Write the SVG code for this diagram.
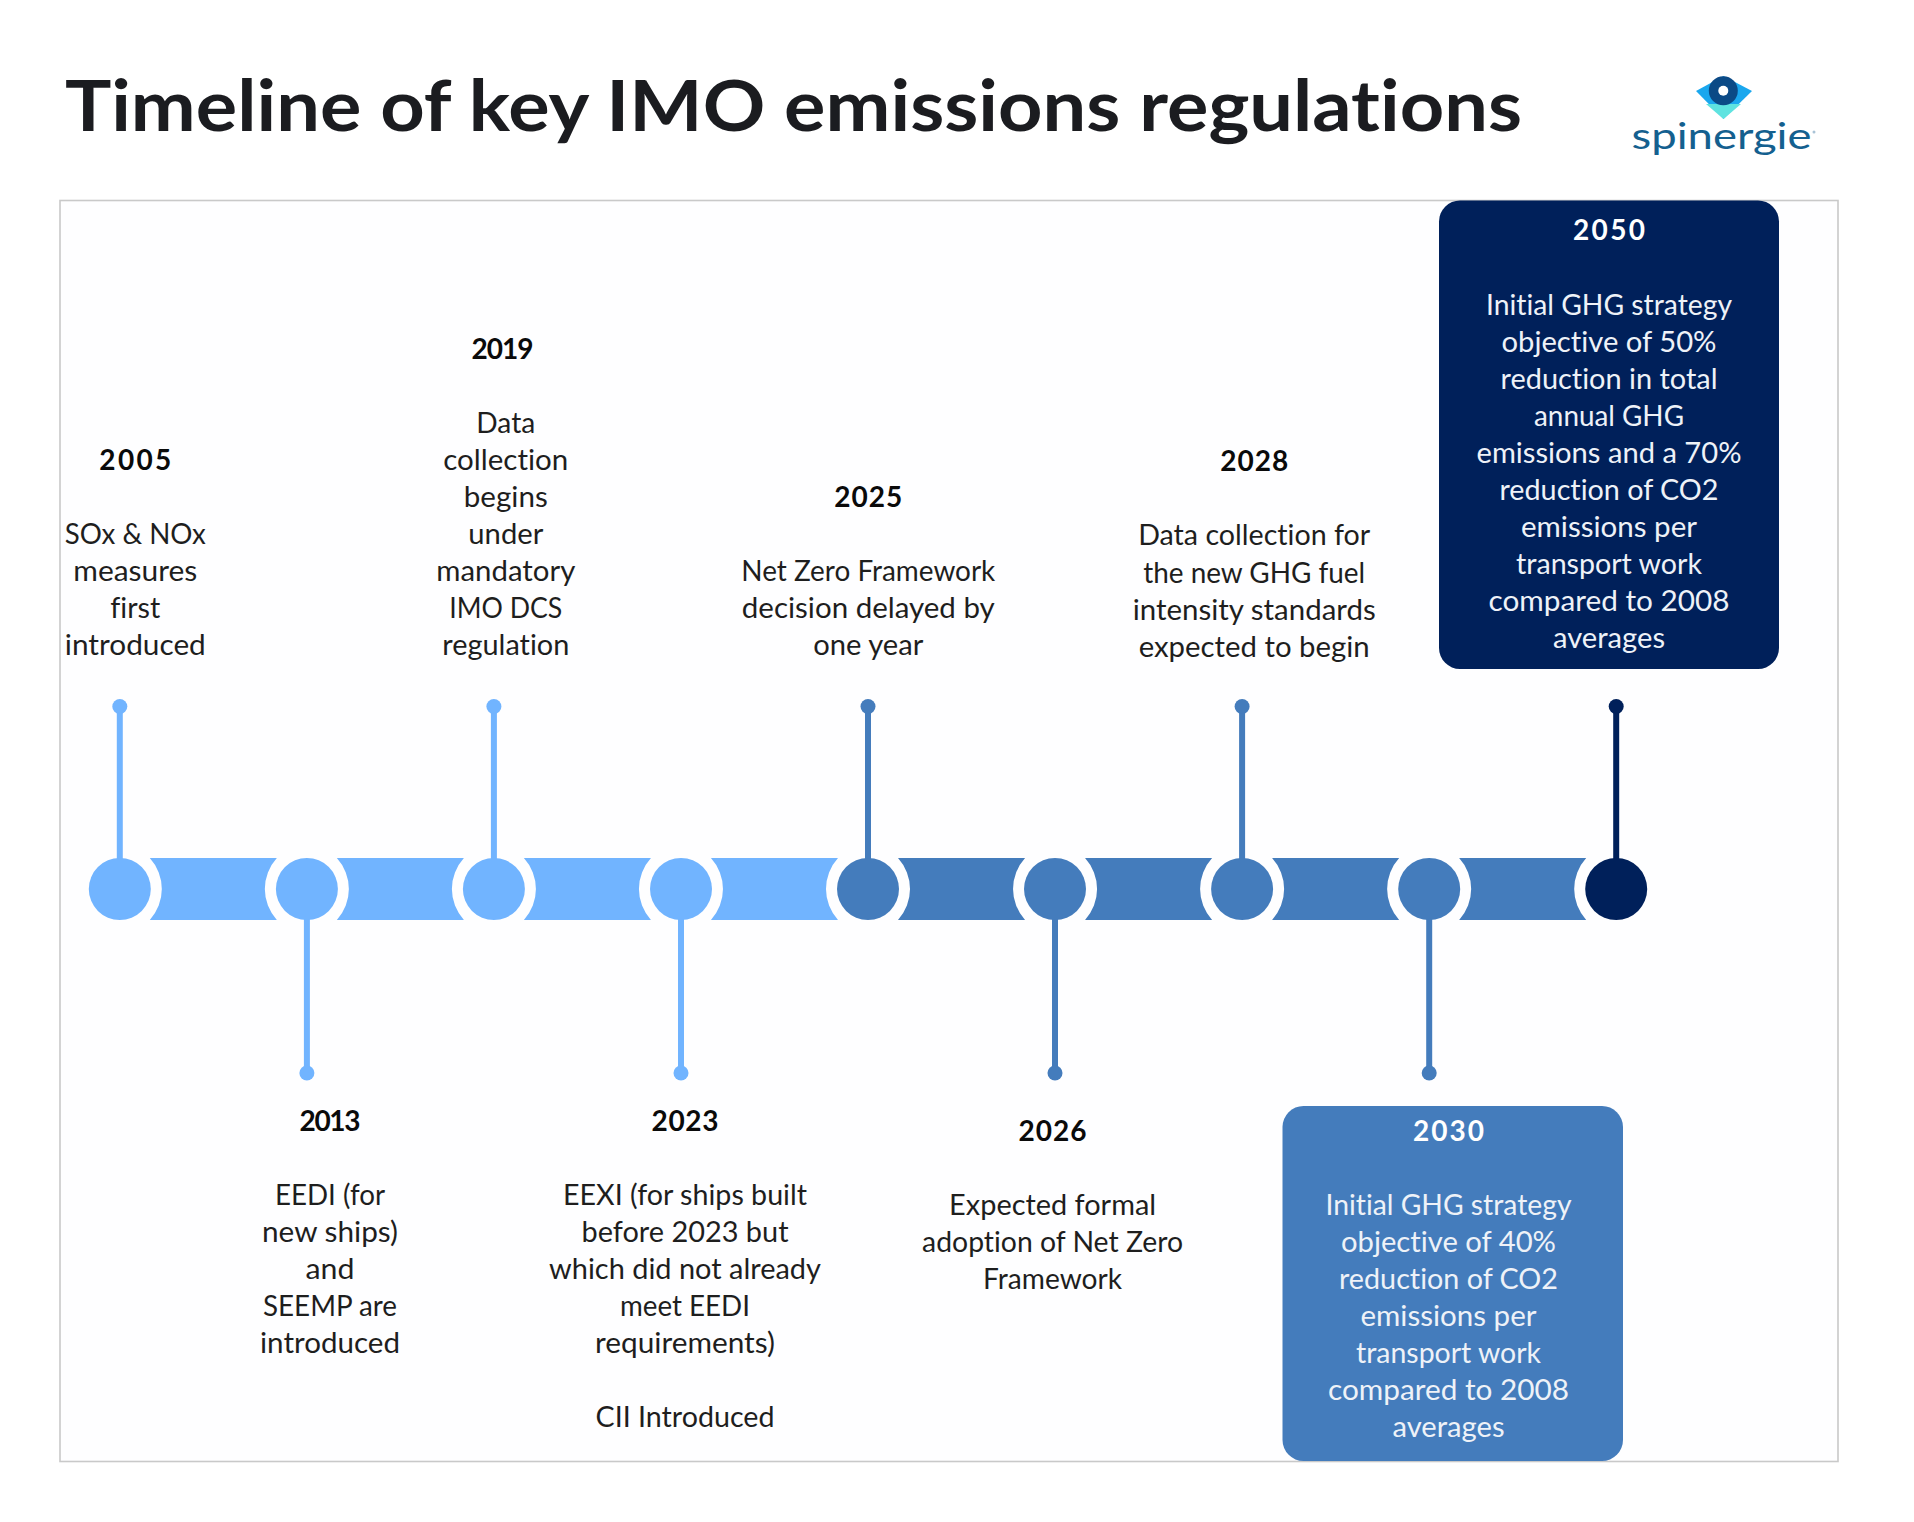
<svg xmlns="http://www.w3.org/2000/svg" width="1914" height="1522" viewBox="0 0 1914 1522">
<style>
text{font-family:"Lato","Liberation Sans",sans-serif;text-anchor:middle;font-variant-ligatures:none}
.t{font-size:71px;font-weight:700;fill:#1b1c20;text-anchor:start}
.y{font-size:28px;font-weight:700;fill:#0a0a0a}
.b{font-size:28px;fill:#1e1e1e}
.w{fill:#eef2f8}
.yw{fill:#fff}
.l{fill:#71b4ff}.m{fill:#447cbc}.n{fill:#00205a}
.sl{stroke:#71b4ff}.sm{stroke:#447cbc}.sn{stroke:#00205a}
#connectors line{stroke-width:6;fill:none}
</style>
<rect width="1914" height="1522" fill="#fff"/>
<text class="t" x="65" y="131" textLength="1457" lengthAdjust="spacingAndGlyphs">Timeline of key IMO emissions regulations</text>
<g id="logo">
<polygon points="1696,91 1723.5,76 1752,91 1723.5,119" fill="#1aa7ee"/>
<polygon points="1706,104 1741,104 1723.5,119" fill="#5fe3e0"/>
<circle cx="1723.3" cy="90.7" r="14.5" fill="#0b4a86"/>
<circle cx="1723.3" cy="90.7" r="5" fill="#fff"/>
<text x="1721.5" y="149" font-size="37" fill="#14608f" textLength="180" lengthAdjust="spacingAndGlyphs">spinergie</text>
<circle cx="1814" cy="132" r="1.5" fill="#a9c3d6"/>
</g>
<rect id="frame" x="60" y="200.5" width="1778" height="1261" fill="#fefeff" stroke="#c9c9c9" stroke-width="1.6"/>
<g id="bar">
<path class="l" d="M149.8 858H276.85A46 46 0 0 0 276.85 920H149.8A46 46 0 0 0 149.8 858Z"/>
<path class="l" d="M336.85 858H463.9A46 46 0 0 0 463.9 920H336.85A46 46 0 0 0 336.85 858Z"/>
<path class="l" d="M523.9 858H650.95A46 46 0 0 0 650.95 920H523.9A46 46 0 0 0 523.9 858Z"/>
<path class="l" d="M710.95 858H838A46 46 0 0 0 838 920H710.95A46 46 0 0 0 710.95 858Z"/>
<path class="m" d="M898 858H1025.05A46 46 0 0 0 1025.05 920H898A46 46 0 0 0 898 858Z"/>
<path class="m" d="M1085.05 858H1212.1A46 46 0 0 0 1212.1 920H1085.05A46 46 0 0 0 1085.05 858Z"/>
<path class="m" d="M1272.1 858H1399.15A46 46 0 0 0 1399.15 920H1272.1A46 46 0 0 0 1272.1 858Z"/>
<path class="m" d="M1459.15 858H1586.2A46 46 0 0 0 1586.2 920H1459.15A46 46 0 0 0 1459.15 858Z"/>
</g>
<g id="connectors">
<line class="sl" x1="119.8" y1="706" x2="119.8" y2="870"/><circle class="l" cx="119.8" cy="706.5" r="7.5"/>
<line class="sl" x1="306.9" y1="910" x2="306.9" y2="1073"/><circle class="l" cx="306.9" cy="1073" r="7.5"/>
<line class="sl" x1="493.9" y1="706" x2="493.9" y2="870"/><circle class="l" cx="493.9" cy="706.5" r="7.5"/>
<line class="sl" x1="681" y1="910" x2="681" y2="1073"/><circle class="l" cx="681" cy="1073" r="7.5"/>
<line class="sm" x1="868" y1="706" x2="868" y2="870"/><circle class="m" cx="868" cy="706.5" r="7.5"/>
<line class="sm" x1="1055" y1="910" x2="1055" y2="1073"/><circle class="m" cx="1055" cy="1073" r="7.5"/>
<line class="sm" x1="1242.1" y1="706" x2="1242.1" y2="870"/><circle class="m" cx="1242.1" cy="706.5" r="7.5"/>
<line class="sm" x1="1429.2" y1="910" x2="1429.2" y2="1073"/><circle class="m" cx="1429.2" cy="1073" r="7.5"/>
<line class="sn" x1="1616.2" y1="706" x2="1616.2" y2="870"/><circle class="n" cx="1616.2" cy="706.5" r="7.5"/>
</g>
<g id="node-2005">
<circle class="l" cx="119.8" cy="889" r="31"/>
<text class="y" x="135.3" y="470" textLength="72">2005</text>
<text class="b" x="135.3" y="544" textLength="141" lengthAdjust="spacingAndGlyphs">SOx &amp; NOx</text>
<text class="b" x="135.3" y="581" textLength="124" lengthAdjust="spacingAndGlyphs">measures</text>
<text class="b" x="135.3" y="618" textLength="50" lengthAdjust="spacingAndGlyphs">first</text>
<text class="b" x="135.3" y="655" textLength="141" lengthAdjust="spacingAndGlyphs">introduced</text>
</g>
<g id="node-2013">
<circle class="l" cx="306.9" cy="889" r="31"/>
<text class="y" x="330" y="1131" textLength="61">2013</text>
<text class="b" x="330" y="1205" textLength="110" lengthAdjust="spacingAndGlyphs">EEDI (for</text>
<text class="b" x="330" y="1242" textLength="136" lengthAdjust="spacingAndGlyphs">new ships)</text>
<text class="b" x="330" y="1279" textLength="49" lengthAdjust="spacingAndGlyphs">and</text>
<text class="b" x="330" y="1316" textLength="134" lengthAdjust="spacingAndGlyphs">SEEMP are</text>
<text class="b" x="330" y="1353" textLength="140" lengthAdjust="spacingAndGlyphs">introduced</text>
</g>
<g id="node-2019">
<circle class="l" cx="493.9" cy="889" r="31"/>
<text class="y" x="502.4" y="358.5" textLength="62">2019</text>
<text class="b" x="505.8" y="432.5" textLength="59" lengthAdjust="spacingAndGlyphs">Data</text>
<text class="b" x="505.8" y="470" textLength="125" lengthAdjust="spacingAndGlyphs">collection</text>
<text class="b" x="505.8" y="507" textLength="84" lengthAdjust="spacingAndGlyphs">begins</text>
<text class="b" x="505.8" y="544" textLength="75" lengthAdjust="spacingAndGlyphs">under</text>
<text class="b" x="505.8" y="581" textLength="139" lengthAdjust="spacingAndGlyphs">mandatory</text>
<text class="b" x="505.8" y="618" textLength="113" lengthAdjust="spacingAndGlyphs">IMO DCS</text>
<text class="b" x="505.8" y="655" textLength="127" lengthAdjust="spacingAndGlyphs">regulation</text>
</g>
<g id="node-2023">
<circle class="l" cx="681" cy="889" r="31"/>
<text class="y" x="685" y="1131" textLength="67">2023</text>
<text class="b" x="685" y="1205" textLength="244" lengthAdjust="spacingAndGlyphs">EEXI (for ships built</text>
<text class="b" x="685" y="1242" textLength="207" lengthAdjust="spacingAndGlyphs">before 2023 but</text>
<text class="b" x="685" y="1279" textLength="272" lengthAdjust="spacingAndGlyphs">which did not already</text>
<text class="b" x="685" y="1316" textLength="130" lengthAdjust="spacingAndGlyphs">meet EEDI</text>
<text class="b" x="685" y="1353" textLength="180" lengthAdjust="spacingAndGlyphs">requirements)</text>
<text class="b" x="685" y="1427" textLength="179" lengthAdjust="spacingAndGlyphs">CII Introduced</text>
</g>
<g id="node-2025">
<circle class="m" cx="868" cy="889" r="31"/>
<text class="y" x="868.3" y="506.5" textLength="68">2025</text>
<text class="b" x="868.3" y="581" textLength="254" lengthAdjust="spacingAndGlyphs">Net Zero Framework</text>
<text class="b" x="868.3" y="618" textLength="253" lengthAdjust="spacingAndGlyphs">decision delayed by</text>
<text class="b" x="868.3" y="655" textLength="110" lengthAdjust="spacingAndGlyphs">one year</text>
</g>
<g id="node-2026">
<circle class="m" cx="1055" cy="889" r="31"/>
<text class="y" x="1052.6" y="1141" textLength="68">2026</text>
<text class="b" x="1052.6" y="1215" textLength="207" lengthAdjust="spacingAndGlyphs">Expected formal</text>
<text class="b" x="1052.6" y="1252" textLength="261" lengthAdjust="spacingAndGlyphs">adoption of Net Zero</text>
<text class="b" x="1052.6" y="1289" textLength="139" lengthAdjust="spacingAndGlyphs">Framework</text>
</g>
<g id="node-2028">
<circle class="m" cx="1242.1" cy="889" r="31"/>
<text class="y" x="1254.2" y="471" textLength="68">2028</text>
<text class="b" x="1254.2" y="545" textLength="232" lengthAdjust="spacingAndGlyphs">Data collection for</text>
<text class="b" x="1254.2" y="582.5" textLength="222" lengthAdjust="spacingAndGlyphs">the new GHG fuel</text>
<text class="b" x="1254.2" y="619.5" textLength="243" lengthAdjust="spacingAndGlyphs">intensity standards</text>
<text class="b" x="1254.2" y="656.5" textLength="231" lengthAdjust="spacingAndGlyphs">expected to begin</text>
</g>
<g id="node-2030">
<circle class="m" cx="1429.2" cy="889" r="31"/>
<rect class="m" x="1282.5" y="1106" width="340.5" height="355" rx="21"/>
<text class="y yw" x="1448.5" y="1141" textLength="71">2030</text>
<text class="b w" x="1448.5" y="1215" textLength="246" lengthAdjust="spacingAndGlyphs">Initial GHG strategy</text>
<text class="b w" x="1448.5" y="1252" textLength="215" lengthAdjust="spacingAndGlyphs">objective of 40%</text>
<text class="b w" x="1448.5" y="1289" textLength="219" lengthAdjust="spacingAndGlyphs">reduction of CO2</text>
<text class="b w" x="1448.5" y="1326" textLength="176" lengthAdjust="spacingAndGlyphs">emissions per</text>
<text class="b w" x="1448.5" y="1363" textLength="185" lengthAdjust="spacingAndGlyphs">transport work</text>
<text class="b w" x="1448.5" y="1400" textLength="241" lengthAdjust="spacingAndGlyphs">compared to 2008</text>
<text class="b w" x="1448.5" y="1437" textLength="112" lengthAdjust="spacingAndGlyphs">averages</text>
</g>
<g id="node-2050">
<circle class="n" cx="1616.2" cy="889" r="31"/>
<rect class="n" x="1439" y="200.5" width="340" height="468.5" rx="21"/>
<text class="y yw" x="1609" y="240" textLength="72">2050</text>
<text class="b w" x="1609" y="314.5" textLength="246" lengthAdjust="spacingAndGlyphs">Initial GHG strategy</text>
<text class="b w" x="1609" y="351.5" textLength="215" lengthAdjust="spacingAndGlyphs">objective of 50%</text>
<text class="b w" x="1609" y="388.5" textLength="217" lengthAdjust="spacingAndGlyphs">reduction in total</text>
<text class="b w" x="1609" y="425.5" textLength="150" lengthAdjust="spacingAndGlyphs">annual GHG</text>
<text class="b w" x="1609" y="462.5" textLength="265" lengthAdjust="spacingAndGlyphs">emissions and a 70%</text>
<text class="b w" x="1609" y="499.5" textLength="219" lengthAdjust="spacingAndGlyphs">reduction of CO2</text>
<text class="b w" x="1609" y="536.5" textLength="176" lengthAdjust="spacingAndGlyphs">emissions per</text>
<text class="b w" x="1609" y="574" textLength="186" lengthAdjust="spacingAndGlyphs">transport work</text>
<text class="b w" x="1609" y="611" textLength="241" lengthAdjust="spacingAndGlyphs">compared to 2008</text>
<text class="b w" x="1609" y="648" textLength="112" lengthAdjust="spacingAndGlyphs">averages</text>
</g>
</svg>
